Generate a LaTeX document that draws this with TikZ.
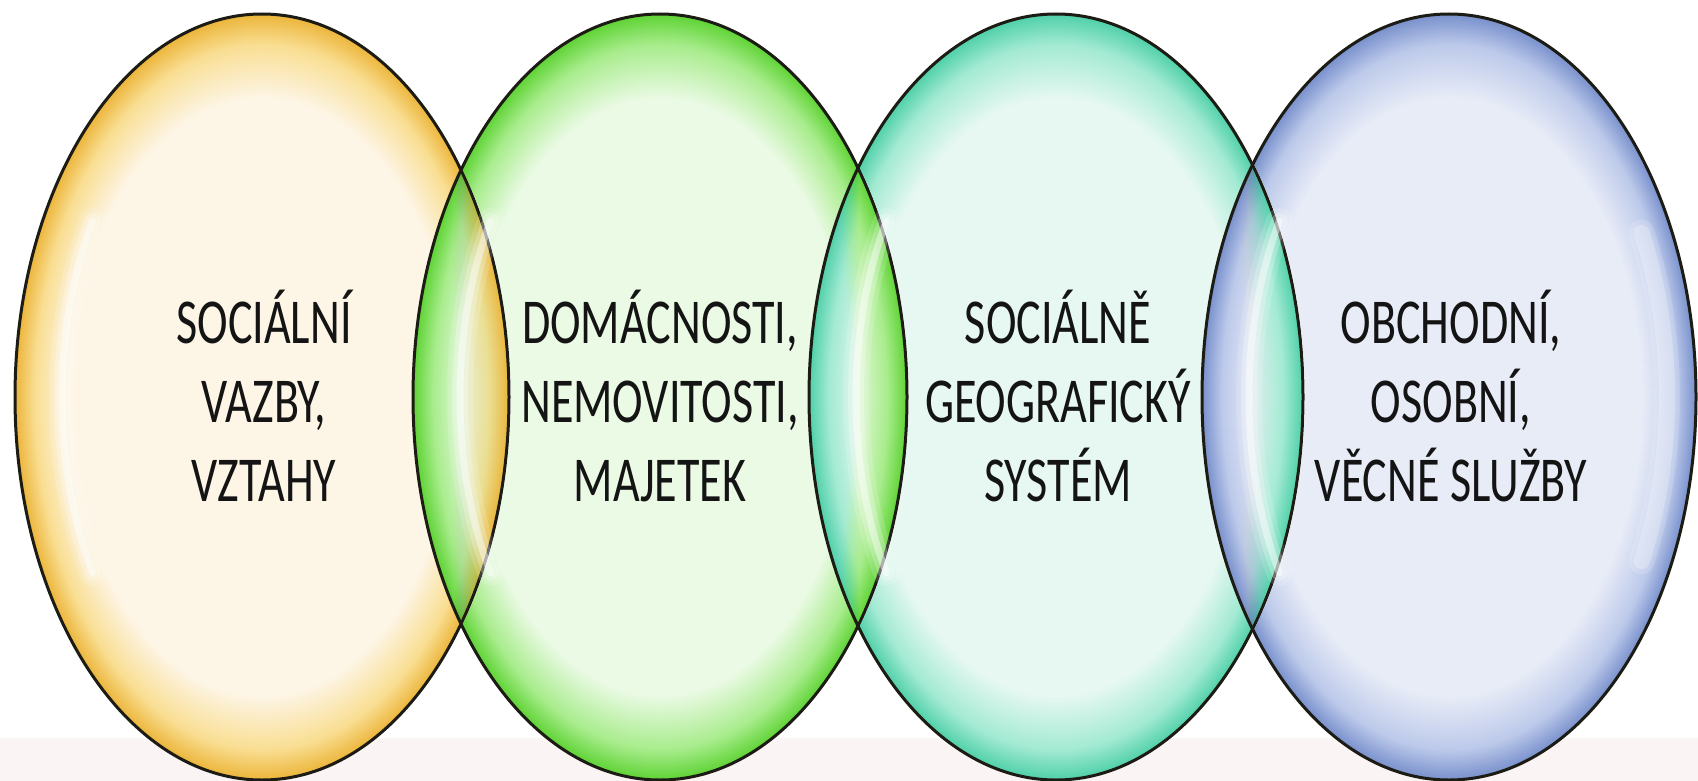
\documentclass[tikz,border=0pt]{standalone}
\usepackage{fontspec}
\usetikzlibrary{shapes.geometric}
\newfontfamily\lblfont[FakeStretch=0.72]{Carlito}
\definecolor{yIn}{HTML}{FDF5E6}
\definecolor{yMid}{HTML}{F9DE92}
\definecolor{yOut}{HTML}{ECB53A}
\definecolor{gIn}{HTML}{EAFAE4}
\definecolor{gMid}{HTML}{A8EC8C}
\definecolor{gOut}{HTML}{5ED334}
\definecolor{tIn}{HTML}{E6F8F1}
\definecolor{tMid}{HTML}{A3EAD3}
\definecolor{tOut}{HTML}{4FD0A8}
\definecolor{bIn}{HTML}{E8ECF7}
\definecolor{bMid}{HTML}{BCC9EA}
\definecolor{bOut}{HTML}{7890CC}
\definecolor{bandcol}{HTML}{FAF4F4}
\definecolor{txtcol}{HTML}{141414}
\definecolor{rimcol}{HTML}{1C1C14}
\pgfdeclareradialshading{bubY}{\pgfpoint{0bp}{0bp}}{color(0bp)=(yIn); color(19.5bp)=(yIn); color(23bp)=(yMid); color(25bp)=(yOut); color(50bp)=(yOut)}
\pgfdeclareradialshading{bubG}{\pgfpoint{0bp}{0bp}}{color(0bp)=(gIn); color(19.5bp)=(gIn); color(23bp)=(gMid); color(25bp)=(gOut); color(50bp)=(gOut)}
\pgfdeclareradialshading{bubT}{\pgfpoint{0bp}{0bp}}{color(0bp)=(tIn); color(19.5bp)=(tIn); color(23bp)=(tMid); color(25bp)=(tOut); color(50bp)=(tOut)}
\pgfdeclareradialshading{bubB}{\pgfpoint{0bp}{0bp}}{color(0bp)=(bIn); color(19.5bp)=(bIn); color(23bp)=(bMid); color(25bp)=(bOut); color(50bp)=(bOut)}
\tikzset{
  bub/.style={ellipse, draw=rimcol, line width=3pt, inner sep=0pt, outer sep=0pt,
    minimum width=494pt, minimum height=766pt},
  lbl/.style={font=\lblfont\fontsize{64}{79}\selectfont, text=txtcol, anchor=base, inner sep=0pt},
  shineA/.style={white, line width=26pt, line cap=round, opacity=0.15},
  shineB/.style={white, line width=16pt, line cap=round, opacity=0.25},
  shineC/.style={white, line width=7pt, line cap=round, opacity=0.45}
}
\begin{document}
\begin{tikzpicture}[x=1pt,y=-1pt]
\useasboundingbox (0,0) rectangle (1698,781);
\fill[white] (0,0) rectangle (1698,781);
\fill[bandcol] (0,738) rectangle (1698,781);
\begin{scope}[blend mode=darken]
\node[bub, shading=bubY] (e1) at (262,397) {};
\node[bub, shading=bubG] (e2) at (660,397) {};
\node[bub, shading=bubT] (e3) at (1056,397) {};
\node[bub, shading=bubB] (e4) at (1449,397) {};
\end{scope}
% highlights
\foreach \c in {262,660,1056,1449}{
  \foreach \s in {shineA,shineB,shineC}{
    \draw[\s] (\c,397) ++(148:200 and 332) arc[start angle=148, end angle=212, x radius=200, y radius=332];
  }
}
\foreach \s in {shineA,shineB}{
  \draw[\s] (1449,397) ++(-28:218 and 350) arc[start angle=-28, end angle=28, x radius=218, y radius=350];
}
% labels
\node[lbl] (a1) at (264,343) {SOCIÁLNÍ};
\node[lbl] (a2) at (264,422) {VAZBY,};
\node[lbl] (a3) at (264,501) {VZTAHY};
\node[lbl] (b1) at (660,343) {DOMÁCNOSTI,};
\node[lbl] (b2) at (660,422) {NEMOVITOSTI,};
\node[lbl] (b3) at (660,501) {MAJETEK};
\node[lbl] (c1) at (1058,343) {SOCIÁLNĚ};
\node[lbl] (c2) at (1058,422) {GEOGRAFICKÝ};
\node[lbl] (c3) at (1058,501) {SYSTÉM};
\node[lbl] (d1) at (1451,343) {OBCHODNÍ,};
\node[lbl] (d2) at (1451,422) {OSOBNÍ,};
\node[lbl] (d3) at (1451,501) {VĚCNÉ SLUŽBY};
\end{tikzpicture}
\end{document}
